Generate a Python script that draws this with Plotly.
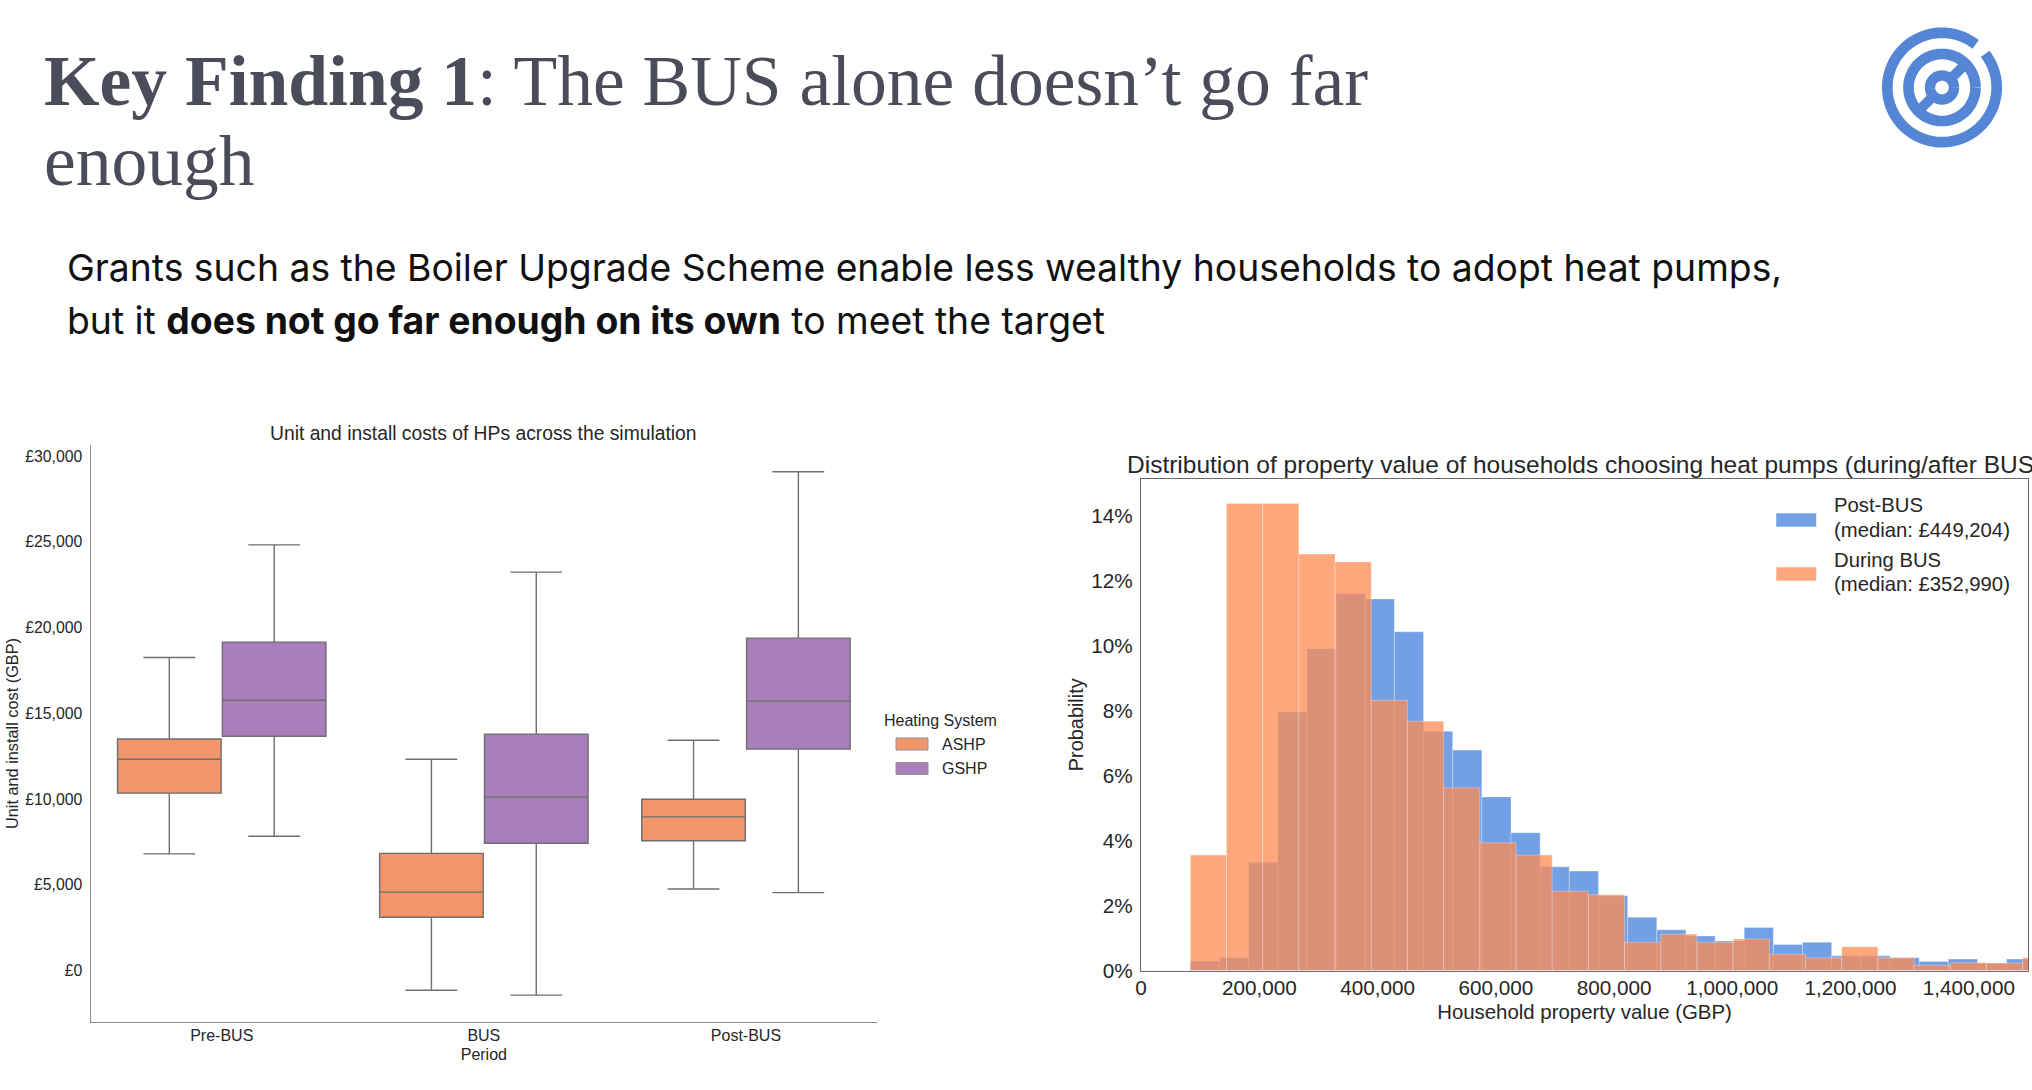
import math
import plotly.graph_objects as go

W, H = 2032, 1090

# ---------- left chart data ----------
periods = ["Pre-BUS", "BUS", "Post-BUS"]
ashp_low = [6800, -1155, 4750]
ashp_q1 = [10340, 3105, 7570]
ashp_med = [12320, 4570, 8960]
ashp_q3 = [13500, 6830, 9985]
ashp_high = [18250, 12320, 13425]
gshp_low = [7830, -1437, 4540]
gshp_q1 = [13655, 7420, 12910]
gshp_med = [15760, 10110, 15710]
gshp_q3 = [19150, 13785, 19380]
gshp_high = [24820, 23230, 29080]
cost_ticks = [0, 5000, 10000, 15000, 20000, 25000, 30000]
cost_labels = ["£0", "£5,000", "£10,000", "£15,000", "£20,000", "£25,000", "£30,000"]

# ---------- right chart data ----------
during_start, during_width = 83400, 61200
during_pct = [3.55, 14.37, 14.37, 12.81, 12.57, 8.31, 7.67, 5.62, 3.93, 3.55, 2.44, 2.33,
              0.87, 1.12, 0.87, 0.97, 0.50, 0.39, 0.73, 0.39, 0.16, 0.24, 0.23, 0.39]
post_start, post_width = 83400, 49300
post_pct = [0.29, 0.40, 3.33, 7.95, 9.90, 11.60, 11.43, 10.42, 7.36, 6.78, 5.34, 4.24, 3.19,
            3.06, 2.30, 1.64, 1.25, 1.06, 0.91, 1.32, 0.80, 0.87, 0.45, 0.45, 0.39, 0.28,
            0.35, 0.22, 0.35]
value_ticks = [0, 200000, 400000, 600000, 800000, 1000000, 1200000, 1400000]
value_labels = ["0", "200,000", "400,000", "600,000", "800,000", "1,000,000", "1,200,000", "1,400,000"]
pct_ticks = [0, 2, 4, 6, 8, 10, 12, 14]
pct_labels = ["0%", "2%", "4%", "6%", "8%", "10%", "12%", "14%"]

ORANGE_BOX = "#F2956A"
PURPLE_BOX = "#A87EBB"
BOX_LINE = "#6E6E6E"
TXT = "#262626"
FONT = "Liberation Sans"
BLUE_HIST = "rgba(68,128,219,0.75)"
ORANGE_HIST = "rgba(255,139,83,0.75)"
HIST_EDGE = "rgba(255,255,255,0.3)"
LOGO = "#5585D5"


def px(x):
    return x / W


def py(y):
    return 1 - y / H


fig = go.Figure()

for name, color, lo, q1, med, q3, hi in [
    ("ASHP", ORANGE_BOX, ashp_low, ashp_q1, ashp_med, ashp_q3, ashp_high),
    ("GSHP", PURPLE_BOX, gshp_low, gshp_q1, gshp_med, gshp_q3, gshp_high),
]:
    fig.add_trace(go.Box(
        name=name, x=periods, lowerfence=lo, q1=q1, median=med, q3=q3, upperfence=hi,
        fillcolor=color, line=dict(color=BOX_LINE, width=1.4), whiskerwidth=0.5,
        offsetgroup=name, xaxis="x", yaxis="y", showlegend=False, boxpoints=False,
    ))

fig.add_trace(go.Bar(
    name="Post-BUS", x=[post_start + i * post_width for i in range(len(post_pct))], y=post_pct,
    width=post_width, offset=0, marker=dict(color=BLUE_HIST, line=dict(color=HIST_EDGE, width=1)),
    xaxis="x2", yaxis="y2", showlegend=False,
))
fig.add_trace(go.Bar(
    name="During BUS", x=[during_start + i * during_width for i in range(len(during_pct))], y=during_pct,
    width=during_width, offset=0, marker=dict(color=ORANGE_HIST, line=dict(color=HIST_EDGE, width=1)),
    xaxis="x2", yaxis="y2", showlegend=False,
))

ann = []


def text(x, y, s, size, color=TXT, family=FONT, xa="left", ya="middle", angle=0):
    ann.append(dict(xref="paper", yref="paper", x=px(x), y=py(y), text=s, showarrow=False,
                    xanchor=xa, yanchor=ya, textangle=angle, align="left",
                    font=dict(size=size, color=color, family=family)))


HEAD = "Liberation Serif"
text(41.5, 81, "<b>Key Finding 1</b>: The BUS alone doesn’t go far", 71.5, "#4A4C5A", HEAD)
text(41.5, 160, "enough", 71.5, "#4A4C5A", HEAD)
BODY = "Inter"
text(65, 267, "Grants such as the Boiler Upgrade Scheme enable less wealthy households to adopt heat pumps,", 37.3, "#111111", BODY)
text(65, 320, "but it <b>does not go far enough on its own</b> to meet the target", 37.3, "#111111", BODY)

text(483, 433, "Unit and install costs of HPs across the simulation", 19.3, xa="center")
text(1124.5, 464, "Distribution of property value of households choosing heat pumps (during/after BUS)", 24.5)

# left legend
text(940.5, 720, "Heating System", 16, xa="center")
text(940, 744, "ASHP", 16)
text(940, 768, "GSHP", 16)
# right legend
text(1831.5, 505, "Post-BUS", 20.3)
text(1831.5, 530, "(median: £449,204)", 20.3)
text(1831.5, 559.5, "During BUS", 20.3)
text(1831.5, 583.5, "(median: £352,990)", 20.3)

shapes = []


def rect(x0, y0, x1, y1, fill, line=None):
    shapes.append(dict(type="rect", xref="paper", yref="paper", x0=px(x0), x1=px(x1), y0=py(y0), y1=py(y1),
                       fillcolor=fill, line=dict(color=line or "rgba(0,0,0,0)", width=1), layer="above"))


rect(896, 738, 928, 750, ORANGE_BOX, "#909090")
rect(896, 762.5, 928, 774.5, PURPLE_BOX, "#909090")
rect(1776, 513, 1816.5, 527, "#73A0E4", "rgba(255,255,255,0.5)")
rect(1776, 567, 1816.5, 581, "#FFA87E", "rgba(255,255,255,0.5)")

# logo
cx, cy = 1942, 87.5


def ring(r, a0, a1, width):
    n = 90
    pts = []
    for i in range(n + 1):
        a = math.radians(a0 + (a1 - a0) * i / n)
        pts.append(f"{px(cx + r * math.cos(a)):.5f},{py(cy - r * math.sin(a)):.5f}")
    shapes.append(dict(type="path", xref="paper", yref="paper", path="M" + " L".join(pts),
                       line=dict(color=LOGO, width=width), fillcolor="rgba(0,0,0,0)", layer="above"))


ring(54.7, 52, 398, 10.7)
ring(33.5, 0, 360, 10.7)
ring(12, 0, 360, 10.4)
d = 29 * math.sqrt(0.5)
d0 = 14 * math.sqrt(0.5)
for sgn in (1, -1):
    shapes.append(dict(type="line", xref="paper", yref="paper", layer="above",
                       x0=px(cx + sgn * d0), y0=py(cy - sgn * d0), x1=px(cx + sgn * d), y1=py(cy - sgn * d),
                       line=dict(color=LOGO, width=10)))

fig.update_layout(
    width=W, height=H, autosize=False,
    margin=dict(l=0, r=0, t=0, b=0, pad=0, autoexpand=False),
    paper_bgcolor="white", plot_bgcolor="white",
    boxmode="group", boxgap=0.2, boxgroupgap=0.012, barmode="overlay", showlegend=False,
    font=dict(family=FONT, color=TXT),
    annotations=ann, shapes=shapes,
    xaxis=dict(domain=[px(90.7), px(877)], range=[-0.5, 2.5], type="category", categoryorder="array",
               categoryarray=periods, anchor="y", showgrid=False, zeroline=False, showline=True,
               linecolor="#8C8C8C", linewidth=1.3, ticks="", ticklabelstandoff=-1,
               tickfont=dict(size=16, color=TXT, family=FONT),
               title=dict(text="Period", font=dict(size=16, color=TXT, family=FONT), standoff=5)),
    yaxis=dict(domain=[py(1022), py(445)], range=[-3003, 30642], anchor="x", showgrid=False, zeroline=False,
               showline=True, linecolor="#8C8C8C", linewidth=1.3, ticks="", tickvals=cost_ticks, ticklabelstandoff=4,
               ticktext=cost_labels, tickfont=dict(size=15.8, color=TXT, family=FONT),
               title=dict(text="Unit and install cost (GBP)", font=dict(size=16.3, color=TXT, family=FONT), standoff=2)),
    xaxis2=dict(domain=[px(1141), px(2028)], range=[0, 1500000], anchor="y2", showgrid=False, zeroline=False,
                showline=True, mirror=True, linecolor="#6A6A6A", linewidth=1.2, ticks="", tickvals=value_ticks,
                ticklabelstandoff=-1, ticktext=value_labels, tickfont=dict(size=20.7, color=TXT, family=FONT),
                title=dict(text="Household property value (GBP)", font=dict(size=20.4, color=TXT, family=FONT), standoff=6)),
    yaxis2=dict(domain=[py(970.5), py(479)], range=[0, 15.12], anchor="x2", showgrid=False, zeroline=False,
                showline=True, mirror=True, linecolor="#6A6A6A", linewidth=1.2, ticks="", tickvals=pct_ticks,
                ticklabelstandoff=3, ticktext=pct_labels, tickfont=dict(size=20.7, color=TXT, family=FONT),
                title=dict(text="Probability", font=dict(size=19.9, color=TXT, family=FONT), standoff=2)),
)

fig.write_html("out.html", config=dict(displayModeBar=False),
               post_script="document.body.style.margin='0';document.body.style.overflow='hidden';")
